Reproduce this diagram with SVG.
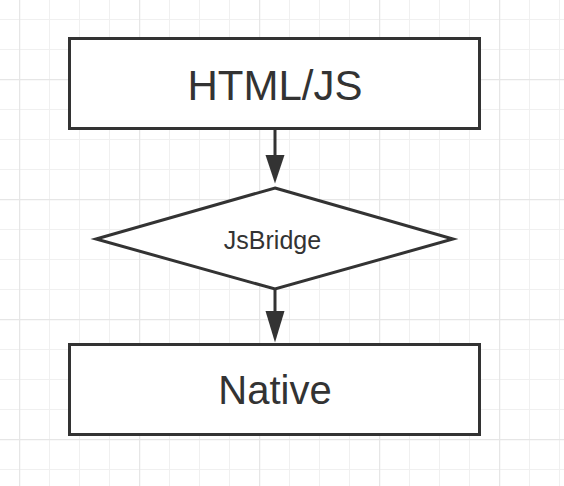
<svg xmlns="http://www.w3.org/2000/svg" width="564" height="486" viewBox="0 0 564 486">
  <defs>
    <pattern id="minor" x="19" y="19" width="30" height="30" patternUnits="userSpaceOnUse">
      <path d="M0.5 0V30M0 0.5H30" stroke="#f0f0f0" stroke-width="1" fill="none"/>
    </pattern>
    <pattern id="major" x="19" y="79" width="120" height="120" patternUnits="userSpaceOnUse">
      <path d="M0.5 0V120M0 0.5H120" stroke="#e6e6e6" stroke-width="1.5" fill="none"/>
    </pattern>
  </defs>
  <style>
    .box { fill: #fff; stroke: #333; stroke-width: 3; }
    .lbl { font-family: "Liberation Sans", Arial, sans-serif; fill: #333; text-anchor: middle; }
    .edge { stroke: #333; stroke-width: 3; fill: none; }
    .head { fill: #333; }
  </style>
  <rect width="564" height="486" fill="#fff"/>
  <rect width="564" height="486" fill="url(#minor)"/>
  <rect width="564" height="486" fill="url(#major)"/>

  <g id="connectors">
    <line class="edge" x1="275" y1="129" x2="275" y2="160"/>
    <polygon class="head" points="265.5,155 284.5,155 275,183.5"/>
    <line class="edge" x1="275" y1="289" x2="275" y2="315"/>
    <polygon class="head" points="265.5,311 284.5,311 275,342.5"/>
  </g>

  <g id="node-html">
    <rect class="box" x="69.5" y="38.5" width="410" height="90"/>
    <text class="lbl" x="275" y="100" font-size="42">HTML/JS</text>
  </g>

  <g id="node-jsbridge">
    <polygon class="box" points="275,188 453,239 275,289 96,239"/>
    <text class="lbl" x="272.5" y="249" font-size="25">JsBridge</text>
  </g>

  <g id="node-native">
    <rect class="box" x="69.5" y="344.5" width="410" height="90"/>
    <text class="lbl" x="275" y="404" font-size="40">Native</text>
  </g>
</svg>
